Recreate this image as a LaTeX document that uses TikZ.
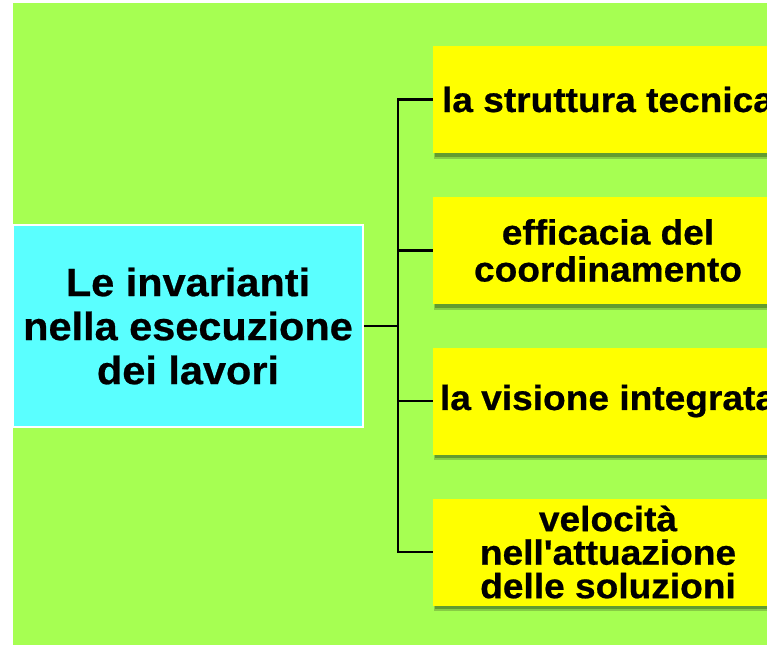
\documentclass[tikz,border=0pt]{standalone}
\usepackage{fontspec}
\usetikzlibrary{shadows}
\newfontfamily\cyanfont[FakeStretch=1.05,FakeBold=0.6]{Liberation Sans}
\newfontfamily\leaffont[FakeStretch=1.06,FakeBold=0.6]{Liberation Sans}
\definecolor{bggreen}{RGB}{166,255,82}
\definecolor{boxcyan}{RGB}{90,255,255}
\definecolor{boxyellow}{RGB}{255,255,0}
\definecolor{shadowgreen}{RGB}{98,156,48}
\definecolor{shadowlight}{RGB}{135,205,68}
\tikzset{
  mainbox/.style={fill=boxcyan, draw=white, line width=1.5pt, minimum width=350pt,
    minimum height=202pt, inner sep=0pt, align=center,
    font=\cyanfont\bfseries\fontsize{39.5}{44}\selectfont},
  leafbox/.style={fill=boxyellow, minimum width=350pt, minimum height=107pt,
    inner sep=0pt, align=center,
    drop shadow={shadow xshift=1pt, shadow yshift=-5.5pt, fill=shadowlight, opacity=1},
    drop shadow={shadow xshift=2pt, shadow yshift=-3.5pt, fill=shadowgreen, opacity=1},
    font=\leaffont\bfseries\fontsize{35}{37}\selectfont},
  conn/.style={draw=black, line width=2.4pt}
}
\begin{document}
\begin{tikzpicture}[x=1pt,y=-1pt]
\useasboundingbox (0,0) rectangle (767,645);
\clip (0,0) rectangle (767,645);
\fill[bggreen] (13,3) rectangle (767,645);
\node[mainbox] (main) at (188,326) {Le invarianti\\nella esecuzione\\dei lavori};
\node[leafbox] (b1) at (608,99.5) {la struttura tecnica};
\node[leafbox] (b2) at (608,250.5) {efficacia del\\coordinamento};
\node[leafbox] (b3) at (608,401) {la visione integrata};
\node[leafbox, font=\leaffont\bfseries\fontsize{35}{33.5}\selectfont] (b4) at (608,552) {velocità\\nell'attuazione\\delle soluzioni};
\coordinate (j) at (398,326);
\draw[conn] (main.east) -- (j);
\draw[conn] (j) |- (b1.west);
\draw[conn] (j) |- (b2.west);
\draw[conn] (j) |- (b3.west);
\draw[conn] (j) |- (b4.west);
\end{tikzpicture}
\end{document}
